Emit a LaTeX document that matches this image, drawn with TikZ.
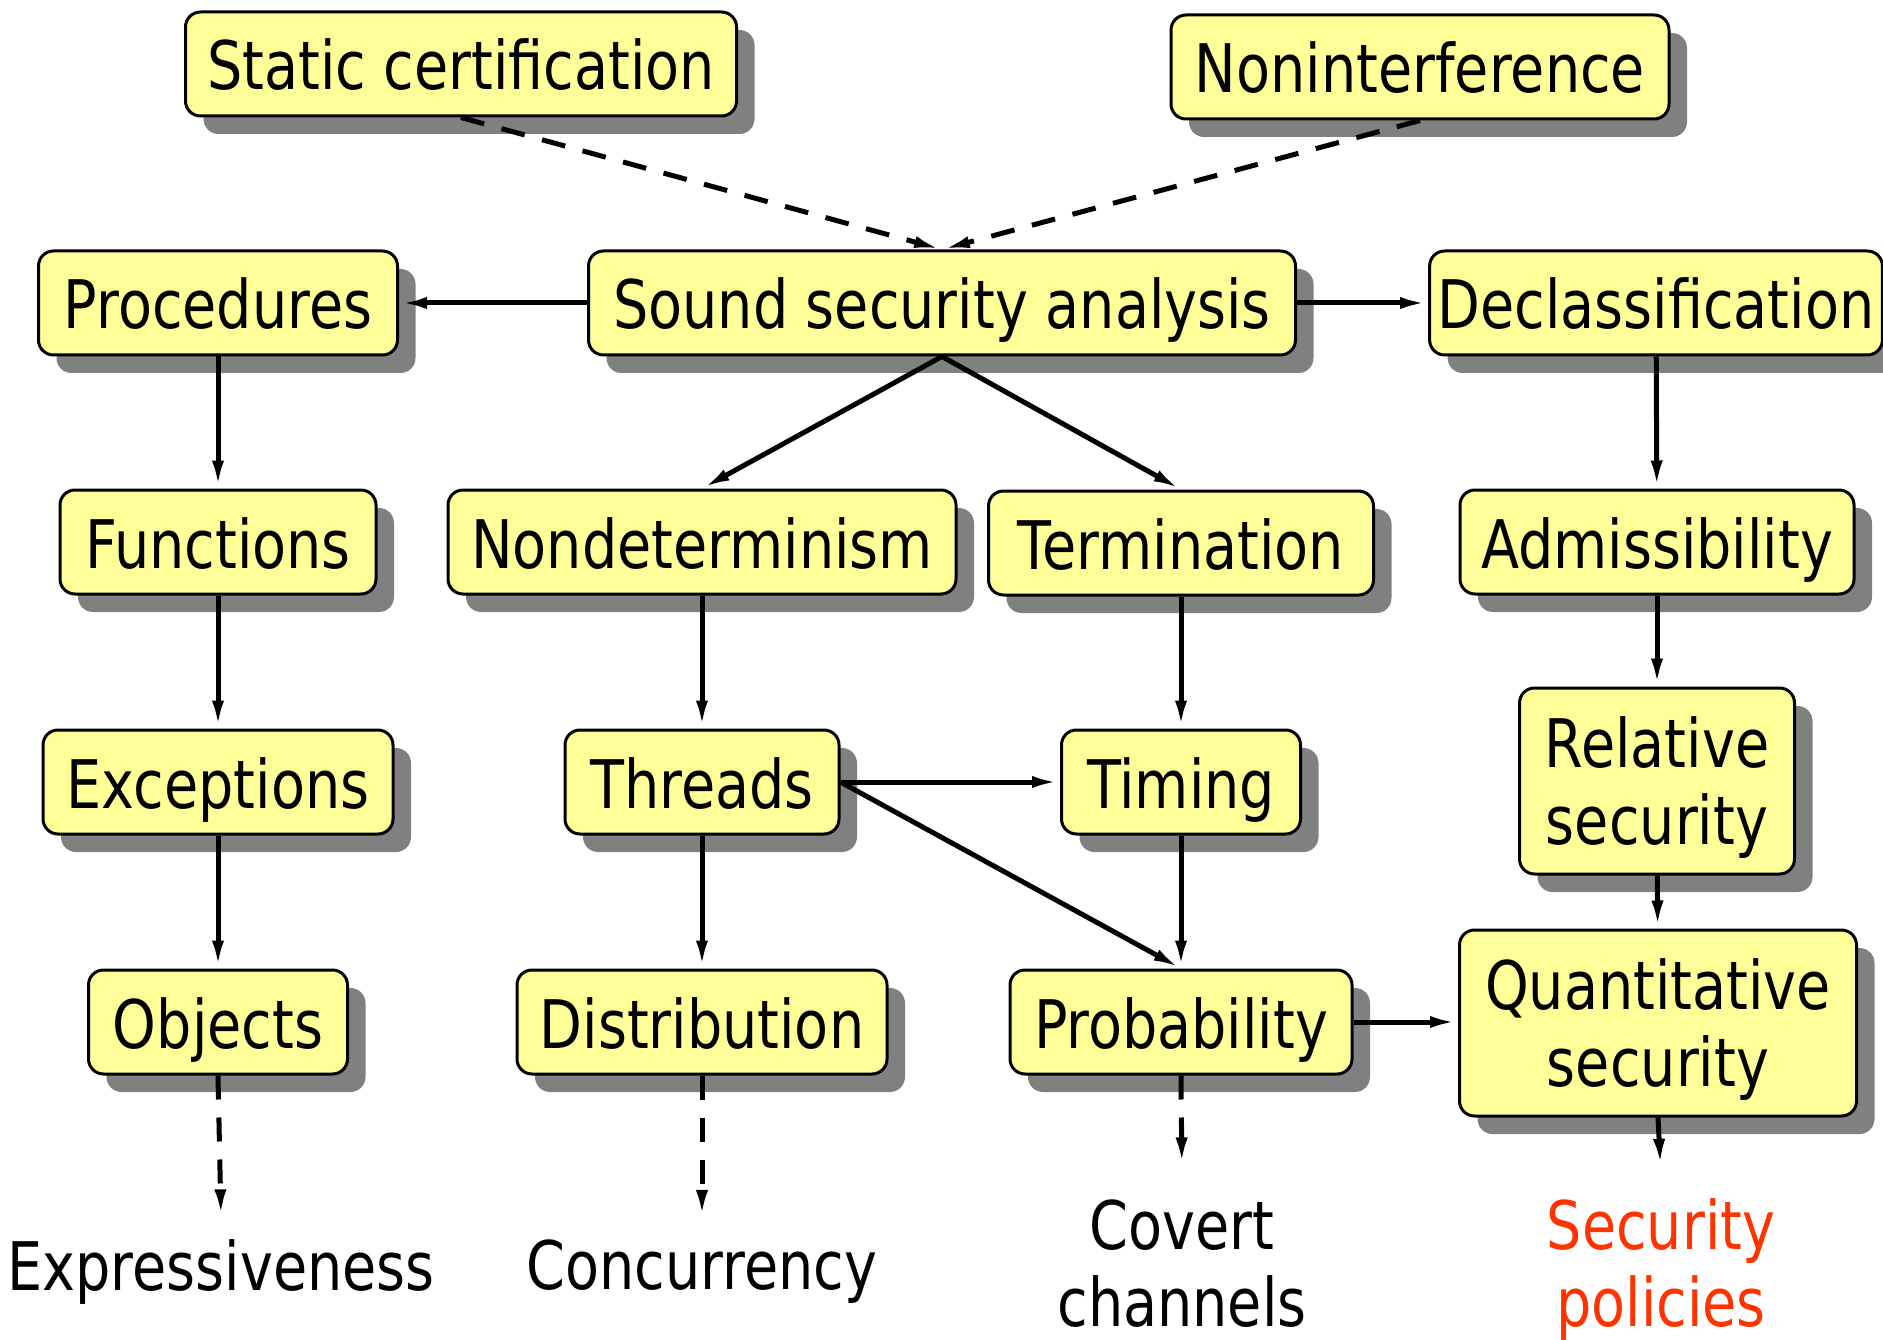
\documentclass[tikz,border=0pt]{standalone}
\usepackage{fontspec}
\setmainfont{DejaVu Sans}[FakeStretch=0.83]
\usepackage{xcolor}
\usetikzlibrary{arrows.meta,shadows}
\definecolor{boxyellow}{HTML}{FFFF99}
\definecolor{shadowgray}{HTML}{808080}
\definecolor{policyred}{HTML}{FF3300}
\tikzset{
  topicbase/.style={draw,line width=3pt,rounded corners=15pt,fill=boxyellow,
    drop shadow={shadow xshift=18pt,shadow yshift=-18pt,fill=shadowgray,opacity=1},
    inner xsep=8pt,text depth=0pt,font=\fontsize{67pt}{77pt}\selectfont},
  topic/.style={topicbase,minimum height=104pt,text height=52pt},
  topictwo/.style={topicbase,align=center,minimum height=186pt},
  area/.style={align=center,text depth=0pt,inner sep=22pt,font=\fontsize{67pt}{77pt}\selectfont},
  link/.style={-{Latex[length=28pt,width=12pt]},line width=5pt},
  hint/.style={link,dash pattern=on 24pt off 18pt}
}
\begin{document}
\begin{tikzpicture}[x=1pt,y=-1pt]
	\useasboundingbox (0,0) rectangle (1883,1340);
	% top row
	\node[topic,minimum width=551pt] (static) at (461,64) {Static certification};
	\node[topic,minimum width=498pt] (nonint) at (1420,67) {Noninterference};
	% second row
	\node[topic,minimum width=359pt] (proc) at (218,303) {Procedures};
	\node[topic,minimum width=707pt] (sound) at (942,303) {Sound security analysis};
	\node[topic,minimum width=446pt] (declass) at (1656,303) {Declassification};
	% third row
	\node[topic,minimum width=316pt] (func) at (218,542) {Functions};
	\node[topic,minimum width=508pt] (nondet) at (702,542) {Nondeterminism};
	\node[topic,minimum width=385pt] (term) at (1181,543) {Termination};
	\node[topic,minimum width=394pt] (admiss) at (1657,542) {Admissibility};
	% fourth row
	\node[topic,minimum width=350pt] (except) at (218,782) {Exceptions};
	\node[topic,minimum width=274pt] (threads) at (702,782) {Threads};
	\node[topic,minimum width=239pt] (timing) at (1181,782) {Timing};
	\node[topictwo,minimum width=275pt] (relsec) at (1657,781) {Relative\\security};
	% fifth row
	\node[topic,minimum width=259pt] (objects) at (218,1022) {Objects};
	\node[topic,minimum width=370pt] (distrib) at (702,1022) {Distribution};
	\node[topic,minimum width=342pt] (prob) at (1181,1022) {Probability};
	\node[topictwo,minimum width=397pt] (quant) at (1658,1023) {Quantitative\\security};
	% areas
	\node[area] (express) at (221,1265) {Expressiveness};
	\node[area] (concur) at (702,1265) {Concurrency};
	\node[area] (covert) at (1182,1263) {Covert\\channels};
	\node[area,text=policyred] (policies) at (1661,1263) {Security\\policies};
	% connectors
	\draw[hint] (static.south) -- (sound.north);
	\draw[hint] (nonint.south) -- (sound.north);
	\draw[link] (sound.west) -- (proc.east);
	\draw[link] (sound.east) -- (declass.west);
	\draw[link] (sound.south) -- (nondet.north);
	\draw[link] (sound.south) -- (term.north);
	\draw[link] (proc) -- (func);
	\draw[link] (func) -- (except);
	\draw[link] (except) -- (objects);
	\draw[link] (nondet) -- (threads);
	\draw[link] (threads) -- (distrib);
	\draw[link] (term) -- (timing);
	\draw[link] (timing) -- (prob);
	\draw[link] (threads.east) -- (timing.west);
	\draw[link] (threads.east) -- (prob.north);
	\draw[link] (prob.east) -- (quant.west |- prob.east);
	\draw[link] (declass) -- (admiss);
	\draw[link] (admiss) -- (relsec);
	\draw[link] (relsec) -- (quant);
	\draw[hint] (objects.south) -- (express.north);
	\draw[hint] (distrib.south) -- (concur.north);
	\draw[hint,shorten >=12pt] (prob.south) -- (covert.north);
	\draw[link,shorten >=10pt] (quant.south) -- (policies.north);
\end{tikzpicture}
\end{document}
